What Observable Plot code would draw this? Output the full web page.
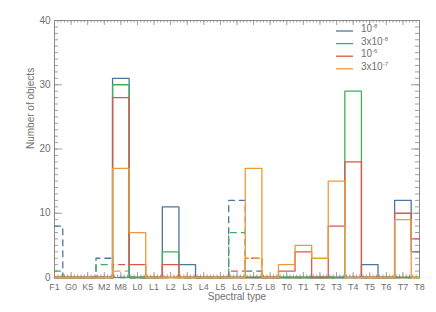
<!DOCTYPE html>
<html>
<head>
<meta charset="utf-8">
<script src="https://cdn.jsdelivr.net/npm/d3@7"></script>
<script src="https://cdn.jsdelivr.net/npm/@observablehq/plot@0.6"></script>
<style>
  html, body { margin: 0; padding: 0; background: #fff; }
  #chart { width: 436px; height: 312px; }
</style>
</head>
<body>
<div id="chart"></div>
<script>
// Categories (spectral types)
const categories = ["F1","G0","K5","M2","M8","L0","L1","L2","L3","L4","L5","L6","L7.5","L8","T0","T1","T2","T3","T4","T5","T6","T7","T8"];

// Series labels and colours
const seriesLabels = ["10", "3x10", "10", "3x10"];
const seriesExponents = ["-8", "-8", "-6", "-7"];
const seriesColors = ["#4a77a2", "#40ae5c", "#e0544a", "#ef9a38"];

// Solid histograms
const blueSolid   = [0,0,0,0,31,0,0,11,2,0,0,0,0,0,0,0,0,0,0,2,0,12,4];
const greenSolid  = [0,0,0,0,30,0,0,4,0,0,0,0,0,0,0,0,0,0,29,0,0,0,0];
const redSolid    = [0,0,0,0,28,2,0,2,0,0,0,0,0,0,1,4,0,8,18,0,0,10,6];
const orangeSolid = [0,0,0,0,17,7,0,0,0,0,0,0,17,0,2,5,3,15,0,0,0,9,0];

// Dashed histograms
const blueDashed   = [8,0,0,3,0,0,0,0,0,0,0,12,1,0,0,0,0,0,0,0,0,0,0];
const greenDashed  = [1,0,0,2,0,0,0,0,0,0,0,7,0,0,0,0,0,0,0,0,0,0,0];
const redDashed    = [0,0,0,0,2,0,0,0,0,0,0,1,3,0,0,0,0,0,0,0,0,0,0];
const orangeDashed = [0,0,0,0,1,0,0,0,0,0,0,0,3,0,0,0,0,0,0,0,0,0,0];

// Axis ticks
const yTickLabels = [0, 10, 20, 30, 40];
const yMinorTicks = d3.range(0, 41, 1);
const xTicks = d3.range(categories.length);
const xMinorTicks = d3.range(0, 22.001, 0.2);

const W = 436, H = 312;
const mL = 54, mR = 17, mT = 20, mB = 35;
const plotW = W - mL - mR, plotH = H - mT - mB;

const toRows = vals => vals.map((v, i) => ({i, v}));
const dashedSets = [blueDashed, greenDashed, redDashed, orangeDashed];
const solidSets = [blueSolid, greenSolid, redSolid, orangeSolid];

const tickColor = "#a0a0a0";
const marks = [];

// ticks (inward, IDL style)
marks.push(Plot.tickY(yMinorTicks, {y: d => d, insetRight: plotW - 4, stroke: tickColor}));
marks.push(Plot.tickY(yTickLabels, {y: d => d, insetRight: plotW - 8, stroke: tickColor}));
marks.push(Plot.tickY(yMinorTicks, {y: d => d, insetLeft: plotW - 4, stroke: tickColor}));
marks.push(Plot.tickY(yTickLabels, {y: d => d, insetLeft: plotW - 8, stroke: tickColor}));
marks.push(Plot.tickX(xMinorTicks, {x: d => d, insetTop: plotH - 2.5, stroke: tickColor}));
marks.push(Plot.tickX(xTicks, {x: d => d, insetTop: plotH - 5, stroke: tickColor}));
marks.push(Plot.tickX(xMinorTicks, {x: d => d, insetBottom: plotH - 2.5, stroke: tickColor}));
marks.push(Plot.tickX(xTicks, {x: d => d, insetBottom: plotH - 5, stroke: tickColor}));
marks.push(Plot.frame({stroke: "#8a8a8a"}));

dashedSets.forEach((vals, k) => {
  marks.push(Plot.line(toRows(vals), {x: "i", y: "v", curve: "step", stroke: seriesColors[k], strokeWidth: 1.3, strokeDasharray: "6,5"}));
});
solidSets.forEach((vals, k) => {
  marks.push(Plot.line(toRows(vals), {x: "i", y: "v", curve: "step", stroke: seriesColors[k], strokeWidth: 1.3}));
});

marks.push(Plot.axisX({ticks: xTicks, tickFormat: i => categories[i], tickSize: 0, tickPadding: 6, label: null, fontSize: 9}));
marks.push(Plot.axisY({ticks: yTickLabels, tickSize: 0, tickPadding: 4, label: null}));
marks.push(Plot.text(["Spectral type"], {frameAnchor: "bottom", dy: 22, text: d => d, fill: "currentColor"}));
marks.push(Plot.text(["Number of objects"], {frameAnchor: "left", dx: -24, rotate: -90, text: d => d, fill: "currentColor"}));

const chart = Plot.plot({
  width: W, height: H,
  marginLeft: mL, marginRight: mR, marginTop: mT, marginBottom: mB,
  x: {type: "linear", domain: [0, categories.length - 1]},
  y: {domain: [0, 40]},
  style: {fontFamily: "'Liberation Sans', Arial, sans-serif", fontSize: "10px", color: "#707070", background: "#fff", overflow: "visible"},
  marks
});

// Legend (top right, inside frame)
const svg = d3.select(chart);
const lg = svg.append("g")
  .attr("font-family", "'Liberation Sans', Arial, sans-serif")
  .attr("fill", "#707070")
  .attr("text-anchor", "start");
seriesLabels.forEach((lab, k) => {
  const y = 31 + k * 12.6;
  lg.append("line").attr("x1", 336).attr("x2", 353).attr("y1", y).attr("y2", y)
    .attr("stroke", seriesColors[k]).attr("stroke-width", 1.3);
  const t = lg.append("text").attr("x", 361).attr("y", y + 1).attr("font-size", 10).attr("text-anchor", "start");
  t.append("tspan").text(lab);
  t.append("tspan").attr("font-size", 6).attr("dy", -4).text(seriesExponents[k]);
});

document.getElementById("chart").appendChild(chart);
</script>
</body>
</html>
